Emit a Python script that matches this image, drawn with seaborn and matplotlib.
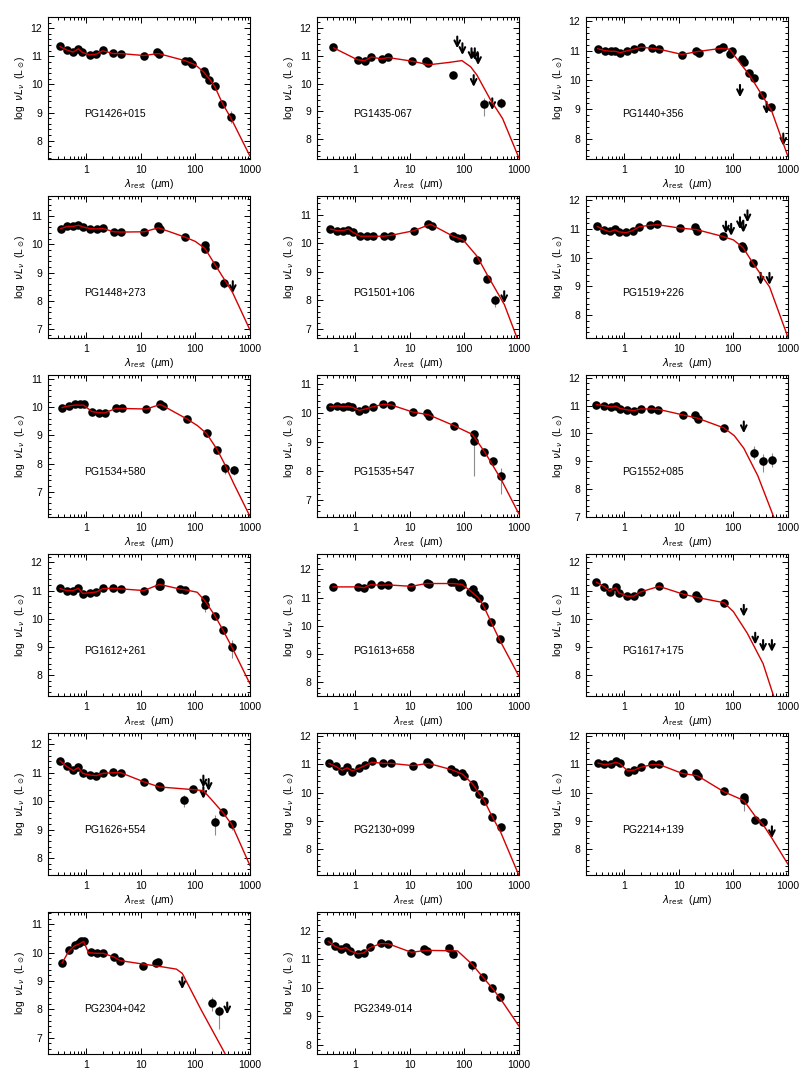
import matplotlib
matplotlib.use("Agg")
import matplotlib.pyplot as plt
import seaborn as sns
from matplotlib.ticker import MultipleLocator, FixedLocator, FixedFormatter, NullFormatter, LogLocator, FormatStrFormatter

# ---- data (rest wavelength in micron, log nuL_nu in L_sun) ----
names = ["PG1426+015", "PG1435-067", "PG1440+356", "PG1448+273", "PG1501+106", "PG1519+226",
         "PG1534+580", "PG1535+547", "PG1552+085", "PG1612+261", "PG1613+658", "PG1617+175",
         "PG1626+554", "PG2130+099", "PG2214+139", "PG2304+042", "PG2349-014"]

y_limits = [(7.35, 12.4), (7.3, 12.38), (7.3, 12.15), (6.7, 11.7), (6.68, 11.66), (7.2, 12.15),
            (6.1, 11.15), (6.4, 11.3), (7.0, 12.1), (7.25, 12.3), (7.5, 12.55), (7.25, 12.3),
            (7.4, 12.4), (7.07, 12.12), (7.07, 12.12), (6.42, 11.44), (7.67, 12.67)]

# PG1426+015
pg1426_x = [0.33, 0.45, 0.58, 0.72, 0.85, 1.16, 1.54, 2.0, 3.16, 4.3, 11.3, 20, 22, 64, 75, 88, 141, 147, 177, 226, 309, 454]
pg1426_y = [11.37, 11.23, 11.15, 11.27, 11.14, 11.05, 11.09, 11.21, 11.11, 11.1, 11.03, 11.14, 11.08, 10.82, 10.82, 10.72, 10.49, 10.38, 10.17, 9.93, 9.31, 8.86]
pg1426_ulx, pg1426_uly = [], []
pg1426_mx = [0.33, 0.45, 0.58, 0.72, 0.85, 1.16, 1.54, 2.0, 3.16, 4.3, 11.3, 21, 64, 100, 140, 180, 226, 309, 454, 1000]
pg1426_my = [11.35, 11.22, 11.15, 11.27, 11.14, 11.05, 11.08, 11.2, 11.1, 11.1, 11.03, 11.1, 10.85, 10.7, 10.45, 10.2, 9.93, 9.35, 8.78, 7.45]
pg1426_ebx, pg1426_eblo, pg1426_ebhi = [75, 454], [10.72, 8.62], [10.9, 9.05]

# PG1435-067
pg1435_x = [0.40, 1.13, 1.52, 1.93, 3.07, 4.06, 11, 20, 21.6, 63, 228, 464]
pg1435_y = [11.3, 10.83, 10.82, 10.96, 10.89, 10.94, 10.82, 10.8, 10.74, 10.3, 9.27, 9.3]
pg1435_ulx = [74, 92, 135, 155, 178, 148, 324]
pg1435_uly = [11.68, 11.44, 11.26, 11.26, 11.08, 10.3, 9.47]
pg1435_mx = [0.4, 1.1, 1.5, 2.0, 3.0, 4.0, 11, 22, 50, 90, 130, 170, 220, 300, 500, 1000]
pg1435_my = [11.28, 10.85, 10.82, 10.95, 10.88, 10.93, 10.8, 10.67, 10.75, 10.82, 10.6, 10.3, 9.9, 9.42, 8.75, 7.33]
pg1435_ebx, pg1435_eblo, pg1435_ebhi = [0.4, 228, 464], [11.2, 8.85, 9.12], [11.38, 9.5, 9.48]

# PG1440+356
pg1440_x = [0.325, 0.45, 0.57, 0.68, 0.85, 1.15, 1.52, 2.02, 3.2, 4.37, 11.5, 20.7, 23.8, 55, 65, 85, 93, 146, 158, 197, 240, 335, 484]
pg1440_y = [11.07, 11.0, 10.98, 10.98, 10.93, 11.0, 11.05, 11.12, 11.08, 11.05, 10.86, 11.0, 10.93, 11.05, 11.12, 10.88, 10.98, 10.7, 10.62, 10.25, 10.07, 9.47, 9.08]
pg1440_ulx, pg1440_uly = [132, 405, 820], [9.83, 9.25, 8.17]
pg1440_mx = [0.325, 0.45, 0.57, 0.68, 0.85, 1.15, 1.52, 2.02, 3.2, 4.37, 11.5, 22, 60, 85, 130, 200, 300, 500, 1000]
pg1440_my = [11.07, 11.0, 10.98, 10.98, 10.93, 11.0, 11.05, 11.12, 11.08, 11.05, 10.87, 10.97, 11.08, 11.05, 10.6, 10.15, 9.62, 8.95, 7.38]
pg1440_ebx, pg1440_eblo, pg1440_ebhi = [], [], []

# PG1448+273
pg1448_x = [0.34, 0.45, 0.58, 0.72, 0.87, 1.2, 1.58, 2.04, 3.18, 4.3, 11.6, 20.7, 22.4, 65, 150, 150, 230, 330]
pg1448_y = [10.55, 10.64, 10.64, 10.68, 10.62, 10.55, 10.53, 10.56, 10.43, 10.43, 10.44, 10.64, 10.55, 10.25, 9.97, 9.84, 9.27, 8.63]
pg1448_ulx, pg1448_uly = [484], [8.7]
pg1448_mx = [0.34, 0.45, 0.58, 0.72, 0.87, 1.2, 1.6, 2.0, 3.2, 4.3, 11.6, 21, 65, 100, 150, 240, 480, 1000]
pg1448_my = [10.55, 10.63, 10.63, 10.67, 10.61, 10.55, 10.54, 10.56, 10.44, 10.43, 10.44, 10.58, 10.25, 10.1, 9.85, 9.22, 8.3, 6.98]
pg1448_ebx, pg1448_eblo, pg1448_ebhi = [330], [8.45], [8.78]

# PG1501+106
pg1501_x = [0.35, 0.47, 0.61, 0.75, 0.92, 1.24, 1.64, 2.14, 3.42, 4.5, 11.7, 22, 25.7, 62, 73, 91, 167, 260, 366]
pg1501_y = [10.49, 10.44, 10.44, 10.47, 10.41, 10.24, 10.24, 10.24, 10.24, 10.26, 10.44, 10.67, 10.61, 10.24, 10.18, 10.2, 9.4, 8.76, 8.0]
pg1501_ulx, pg1501_uly = [536], [8.32]
pg1501_mx = [0.35, 0.47, 0.61, 0.75, 0.92, 1.24, 1.64, 2.14, 3.4, 4.5, 11.7, 24, 62, 95, 170, 270, 540, 1000]
pg1501_my = [10.5, 10.45, 10.45, 10.5, 10.38, 10.25, 10.25, 10.25, 10.25, 10.28, 10.44, 10.67, 10.25, 10.12, 9.55, 8.85, 7.85, 6.5]
pg1501_ebx, pg1501_eblo, pg1501_ebhi = [366], [7.78], [8.2]

# PG1519+226
pg1519_x = [0.32, 0.42, 0.54, 0.68, 0.8, 1.09, 1.44, 1.9, 2.99, 4.07, 10.6, 19.9, 22, 64, 145, 148, 226]
pg1519_y = [11.09, 10.98, 10.92, 11.0, 10.91, 10.88, 10.94, 11.08, 11.15, 11.18, 11.02, 11.08, 10.94, 10.74, 10.41, 10.32, 9.82]
pg1519_ulx = [73, 91, 132, 152, 181, 316, 457]
pg1519_uly = [11.26, 11.18, 11.41, 11.29, 11.65, 9.47, 9.47]
pg1519_mx = [0.32, 0.42, 0.54, 0.68, 0.8, 1.09, 1.44, 1.9, 2.99, 4.07, 10.6, 21, 64, 100, 150, 230, 460, 1000]
pg1519_my = [11.09, 10.98, 10.9, 10.97, 10.9, 10.87, 10.95, 11.08, 11.13, 11.15, 11.03, 10.98, 10.74, 10.62, 10.35, 9.8, 8.98, 7.22]
pg1519_ebx, pg1519_eblo, pg1519_ebhi = [145], [10.25], [10.55]

# PG1534+580
pg1534_x = [0.36, 0.48, 0.62, 0.76, 0.9, 1.27, 1.71, 2.17, 3.48, 4.6, 12.6, 22.7, 25.8, 71, 160, 250, 350, 515]
pg1534_y = [9.99, 10.05, 10.11, 10.11, 10.11, 9.84, 9.81, 9.79, 9.99, 9.97, 9.93, 10.13, 10.05, 9.58, 9.08, 8.48, 7.85, 7.76]
pg1534_ulx, pg1534_uly = [], []
pg1534_mx = [0.36, 0.48, 0.62, 0.76, 0.9, 1.27, 1.71, 2.17, 3.48, 4.6, 12.6, 22.7, 25.8, 71, 109, 160, 250, 350, 500, 1000]
pg1534_my = [9.99, 10.05, 10.08, 10.08, 10.08, 9.85, 9.81, 9.8, 9.96, 9.96, 9.94, 10.1, 10.05, 9.58, 9.35, 9.07, 8.5, 7.95, 7.3, 6.12]
pg1534_ebx, pg1534_eblo, pg1534_ebhi = [350, 515], [7.62, 7.6], [8.0, 7.92]

# PG1535+547
pg1535_x = [0.34, 0.47, 0.61, 0.74, 0.88, 1.19, 1.54, 2.08, 3.26, 4.5, 11.4, 20.3, 22.7, 65, 150, 150, 230, 334, 470]
pg1535_y = [10.21, 10.23, 10.21, 10.22, 10.19, 10.07, 10.13, 10.21, 10.3, 10.27, 10.01, 9.98, 9.9, 9.53, 9.26, 9.01, 8.64, 8.33, 7.83]
pg1535_ulx, pg1535_uly = [], []
pg1535_mx = [0.34, 0.47, 0.61, 0.74, 0.88, 1.19, 1.54, 2.08, 3.26, 4.5, 11.4, 22, 65, 140, 240, 470, 1000]
pg1535_my = [10.21, 10.23, 10.21, 10.22, 10.19, 10.08, 10.13, 10.2, 10.29, 10.27, 10.02, 9.93, 9.55, 9.25, 8.62, 7.7, 6.5]
pg1535_ebx, pg1535_eblo, pg1535_ebhi = [150, 470], [7.8, 7.2], [9.3, 8.1]

# PG1552+085
pg1552_x = [0.31, 0.43, 0.58, 0.7, 0.84, 1.12, 1.52, 2.0, 3.1, 4.16, 11.7, 20.2, 22.5, 67, 240, 350, 507]
pg1552_y = [11.04, 11.0, 10.94, 11.0, 10.88, 10.85, 10.82, 10.88, 10.88, 10.86, 10.67, 10.67, 10.53, 10.18, 9.3, 9.0, 9.03]
pg1552_ulx, pg1552_uly = [155], [10.43]
pg1552_mx = [0.31, 0.43, 0.58, 0.7, 0.84, 1.12, 1.52, 2.0, 3.1, 4.16, 11.7, 22, 67, 104, 155, 280, 600]
pg1552_my = [11.04, 11.0, 10.95, 10.98, 10.9, 10.85, 10.82, 10.88, 10.88, 10.87, 10.67, 10.55, 10.2, 9.92, 9.47, 8.48, 6.8]
pg1552_ebx, pg1552_eblo, pg1552_ebhi = [240, 350, 507], [9.1, 8.6, 8.8], [9.55, 9.25, 9.3]

# PG1612+261
pg1612_x = [0.33, 0.44, 0.58, 0.72, 0.86, 1.16, 1.54, 2.03, 3.13, 4.32, 11.4, 21.7, 22.6, 22.6, 53, 64, 147, 147, 226, 318, 463]
pg1612_y = [11.08, 11.0, 11.0, 11.09, 10.88, 10.91, 10.94, 11.09, 11.09, 11.06, 11.0, 11.17, 11.29, 11.15, 11.06, 11.03, 10.7, 10.47, 10.11, 9.6, 8.99]
pg1612_ulx, pg1612_uly = [], []
pg1612_mx = [0.33, 0.44, 0.58, 0.72, 0.86, 1.16, 1.54, 2.03, 3.13, 4.32, 11.4, 22, 53, 64, 108, 147, 226, 318, 463, 1000]
pg1612_my = [11.07, 11.0, 11.0, 11.08, 10.9, 10.92, 10.95, 11.07, 11.08, 11.06, 11.0, 11.22, 11.05, 11.03, 10.94, 10.65, 10.12, 9.6, 9.0, 7.68]
pg1612_ebx, pg1612_eblo, pg1612_ebhi = [147, 463], [10.25, 8.6], [10.65, 9.25]

# PG1613+658
pg1613_x = [0.39, 1.11, 1.47, 1.91, 2.93, 4.05, 10.7, 20.3, 22.7, 56, 64, 79, 88, 92, 127, 141, 158, 183, 227, 305, 440]
pg1613_y = [11.38, 11.38, 11.33, 11.48, 11.44, 11.44, 11.38, 11.53, 11.48, 11.56, 11.56, 11.36, 11.53, 11.44, 11.2, 11.29, 11.11, 10.97, 10.7, 10.14, 9.51]
pg1613_ulx, pg1613_uly = [], []
pg1613_mx = [0.39, 1.1, 1.47, 1.9, 2.9, 4.05, 10.7, 20, 60, 90, 127, 183, 227, 305, 440, 1000]
pg1613_my = [11.38, 11.38, 11.35, 11.46, 11.44, 11.45, 11.4, 11.5, 11.5, 11.47, 11.25, 10.98, 10.68, 10.15, 9.5, 8.2]
pg1613_ebx, pg1613_eblo, pg1613_ebhi = [0.39], [11.28], [11.46]

# PG1617+175
pg1617_x = [0.31, 0.42, 0.54, 0.7, 0.8, 1.12, 1.5, 2.0, 4.35, 11.7, 21, 22.5, 67]
pg1617_y = [11.32, 11.14, 10.96, 11.12, 10.9, 10.79, 10.79, 10.96, 11.17, 10.88, 10.85, 10.75, 10.55]
pg1617_ulx, pg1617_uly = [155, 251, 350, 507], [10.49, 9.5, 9.24, 9.24]
pg1617_mx = [0.31, 0.42, 0.54, 0.7, 0.8, 1.12, 1.5, 2.0, 4.35, 11.7, 22, 67, 100, 180, 350, 600]
pg1617_my = [11.3, 11.15, 10.98, 11.1, 10.92, 10.8, 10.8, 10.95, 11.15, 10.88, 10.75, 10.57, 10.25, 9.48, 8.4, 7.0]
pg1617_ebx, pg1617_eblo, pg1617_ebhi = [], [], []

# PG1626+554
pg1626_x = [0.33, 0.44, 0.58, 0.72, 0.86, 1.16, 1.54, 2.03, 3.13, 4.32, 11.4, 21.7, 22.6, 62, 92, 226, 318, 463]
pg1626_y = [11.43, 11.23, 11.08, 11.2, 10.99, 10.92, 10.9, 10.99, 11.02, 10.99, 10.69, 10.54, 10.49, 10.04, 10.43, 9.28, 9.62, 9.18]
pg1626_ulx, pg1626_uly = [140, 140, 175], [10.9, 10.5, 10.78]
pg1626_mx = [0.33, 0.44, 0.58, 0.72, 0.86, 1.16, 1.54, 2.03, 3.13, 4.32, 11.4, 22, 100, 140, 194, 318, 463, 1000]
pg1626_my = [11.42, 11.22, 11.08, 11.18, 10.98, 10.92, 10.9, 10.98, 11.0, 11.0, 10.68, 10.5, 10.4, 10.37, 10.07, 9.6, 9.18, 7.73]
pg1626_ebx, pg1626_eblo, pg1626_ebhi = [62, 92, 226, 463], [9.8, 10.3, 8.8, 9.0], [10.2, 10.52, 9.5, 9.35]

# PG2130+099
pg2130_x = [0.33, 0.45, 0.57, 0.72, 0.88, 1.16, 1.54, 2.03, 3.27, 4.5, 11.4, 20.3, 22.7, 57, 68, 92, 99, 141, 150, 186, 231, 318, 462]
pg2130_y = [11.04, 10.93, 10.78, 10.9, 10.75, 10.87, 10.99, 11.11, 11.04, 11.05, 10.96, 11.08, 11.02, 10.84, 10.74, 10.68, 10.6, 10.32, 10.2, 9.96, 9.7, 9.15, 8.77]
pg2130_ulx, pg2130_uly = [], []
pg2130_mx = [0.33, 0.45, 0.57, 0.72, 0.88, 1.16, 1.54, 2.03, 3.27, 4.5, 11.4, 22, 57, 92, 140, 186, 231, 318, 460, 1000]
pg2130_my = [11.04, 10.92, 10.8, 10.88, 10.77, 10.86, 10.97, 11.08, 11.04, 11.04, 10.96, 11.04, 10.82, 10.66, 10.32, 9.97, 9.72, 9.17, 8.6, 7.05]
pg2130_ebx, pg2130_eblo, pg2130_ebhi = [99], [10.45], [10.75]

# PG2214+139
pg2214_x = [0.33, 0.43, 0.58, 0.7, 0.84, 1.17, 1.52, 2.02, 3.27, 4.35, 11.7, 21, 22.5, 67, 155, 155, 251, 350]
pg2214_y = [11.05, 11.02, 11.02, 11.11, 11.04, 10.75, 10.81, 10.92, 11.02, 11.02, 10.68, 10.68, 10.6, 10.04, 9.85, 9.72, 9.04, 8.95]
pg2214_ulx, pg2214_uly = [507], [8.8]
pg2214_mx = [0.33, 0.43, 0.58, 0.7, 0.84, 1.17, 1.52, 2.02, 3.27, 4.35, 11.7, 22, 67, 155, 251, 350, 507, 1000]
pg2214_my = [11.05, 11.0, 11.02, 11.08, 11.02, 10.77, 10.8, 10.9, 11.0, 11.0, 10.68, 10.6, 10.03, 9.72, 9.16, 8.86, 8.38, 7.45]
pg2214_ebx, pg2214_eblo, pg2214_ebhi = [155], [9.35], [9.9]

# PG2304+042
pg2304_x = [0.36, 0.48, 0.62, 0.73, 0.81, 0.9, 1.21, 1.6, 2.06, 3.2, 4.24, 10.9, 18.9, 20.8, 200, 275]
pg2304_y = [9.63, 10.08, 10.28, 10.34, 10.4, 10.43, 10.02, 9.99, 9.99, 9.86, 9.72, 9.54, 9.63, 9.66, 8.24, 7.95]
pg2304_ulx, pg2304_uly = [57.5, 383], [9.13, 8.24]
pg2304_mx = [0.36, 0.48, 0.62, 0.73, 0.81, 0.9, 1.1, 1.6, 2.06, 3.2, 4.24, 10.9, 20, 45, 57.5, 130, 350]
pg2304_my = [9.63, 10.05, 10.25, 10.3, 10.35, 10.4, 10.0, 9.98, 9.98, 9.85, 9.72, 9.6, 9.53, 9.42, 9.27, 7.95, 6.43]
pg2304_ebx, pg2304_eblo, pg2304_ebhi = [200, 275], [7.95, 7.3], [8.45, 8.1]

# PG2349-014
pg2349_x = [0.32, 0.42, 0.55, 0.68, 0.81, 1.12, 1.45, 1.9, 2.96, 4.06, 10.7, 18.6, 21, 52.7, 62, 140, 217, 314, 445]
pg2349_y = [11.64, 11.47, 11.37, 11.43, 11.29, 11.2, 11.23, 11.43, 11.57, 11.55, 11.22, 11.38, 11.29, 11.41, 11.2, 10.79, 10.38, 10.01, 9.66]
pg2349_ulx, pg2349_uly = [], []
pg2349_mx = [0.32, 0.42, 0.55, 0.68, 0.81, 1.12, 1.45, 1.9, 2.96, 4.06, 10.7, 20, 75, 140, 217, 314, 445, 1000]
pg2349_my = [11.64, 11.47, 11.37, 11.42, 11.3, 11.2, 11.23, 11.42, 11.56, 11.55, 11.25, 11.32, 11.3, 10.82, 10.38, 10.02, 9.65, 8.65]
pg2349_ebx, pg2349_eblo, pg2349_ebhi = [140], [10.6], [10.95]

panels = [
    (pg1426_x, pg1426_y, pg1426_ulx, pg1426_uly, pg1426_mx, pg1426_my, pg1426_ebx, pg1426_eblo, pg1426_ebhi),
    (pg1435_x, pg1435_y, pg1435_ulx, pg1435_uly, pg1435_mx, pg1435_my, pg1435_ebx, pg1435_eblo, pg1435_ebhi),
    (pg1440_x, pg1440_y, pg1440_ulx, pg1440_uly, pg1440_mx, pg1440_my, pg1440_ebx, pg1440_eblo, pg1440_ebhi),
    (pg1448_x, pg1448_y, pg1448_ulx, pg1448_uly, pg1448_mx, pg1448_my, pg1448_ebx, pg1448_eblo, pg1448_ebhi),
    (pg1501_x, pg1501_y, pg1501_ulx, pg1501_uly, pg1501_mx, pg1501_my, pg1501_ebx, pg1501_eblo, pg1501_ebhi),
    (pg1519_x, pg1519_y, pg1519_ulx, pg1519_uly, pg1519_mx, pg1519_my, pg1519_ebx, pg1519_eblo, pg1519_ebhi),
    (pg1534_x, pg1534_y, pg1534_ulx, pg1534_uly, pg1534_mx, pg1534_my, pg1534_ebx, pg1534_eblo, pg1534_ebhi),
    (pg1535_x, pg1535_y, pg1535_ulx, pg1535_uly, pg1535_mx, pg1535_my, pg1535_ebx, pg1535_eblo, pg1535_ebhi),
    (pg1552_x, pg1552_y, pg1552_ulx, pg1552_uly, pg1552_mx, pg1552_my, pg1552_ebx, pg1552_eblo, pg1552_ebhi),
    (pg1612_x, pg1612_y, pg1612_ulx, pg1612_uly, pg1612_mx, pg1612_my, pg1612_ebx, pg1612_eblo, pg1612_ebhi),
    (pg1613_x, pg1613_y, pg1613_ulx, pg1613_uly, pg1613_mx, pg1613_my, pg1613_ebx, pg1613_eblo, pg1613_ebhi),
    (pg1617_x, pg1617_y, pg1617_ulx, pg1617_uly, pg1617_mx, pg1617_my, pg1617_ebx, pg1617_eblo, pg1617_ebhi),
    (pg1626_x, pg1626_y, pg1626_ulx, pg1626_uly, pg1626_mx, pg1626_my, pg1626_ebx, pg1626_eblo, pg1626_ebhi),
    (pg2130_x, pg2130_y, pg2130_ulx, pg2130_uly, pg2130_mx, pg2130_my, pg2130_ebx, pg2130_eblo, pg2130_ebhi),
    (pg2214_x, pg2214_y, pg2214_ulx, pg2214_uly, pg2214_mx, pg2214_my, pg2214_ebx, pg2214_eblo, pg2214_ebhi),
    (pg2304_x, pg2304_y, pg2304_ulx, pg2304_uly, pg2304_mx, pg2304_my, pg2304_ebx, pg2304_eblo, pg2304_ebhi),
    (pg2349_x, pg2349_y, pg2349_ulx, pg2349_uly, pg2349_mx, pg2349_my, pg2349_ebx, pg2349_eblo, pg2349_ebhi),
]

# ---- style ----
sns.set_style("ticks")
plt.rcParams['font.family'] = ['Liberation Sans', 'DejaVu Sans']
plt.rcParams['mathtext.fontset'] = 'dejavusans'
plt.rcParams['font.size'] = 7.5
for key in ['text.color', 'axes.labelcolor', 'xtick.color', 'ytick.color', 'axes.edgecolor']:
    plt.rcParams[key] = 'black'

W, H = 806, 1074
fig = plt.figure(figsize=(W / 100, H / 100), dpi=100)
fig.patch.set_facecolor('white')

col_left = [48, 317, 586]   # pixel positions of the panel boxes
panel_w, panel_h = 202, 142
row_step, top0 = 179, 17
arrow_len = 0.42            # length of upper-limit arrows in dex

for i, (name, lims, p) in enumerate(zip(names, y_limits, panels)):
    px, py, ulx, uly, mx, my, ebx, eblo, ebhi = p
    row, col = divmod(i, 3)
    top = top0 + row * row_step
    ax = fig.add_axes([col_left[col] / W, (H - top - panel_h) / H, panel_w / W, panel_h / H])
    ax.set_xscale('log')

    # error bars, data, model
    if ebx:
        ax.vlines(ebx, eblo, ebhi, color='#8c8c8c', lw=0.8, zorder=2)
    sns.scatterplot(x=px, y=py, ax=ax, color='black', s=38, linewidth=0, zorder=3, legend=False)
    sns.lineplot(x=mx, y=my, ax=ax, sort=False, estimator=None, color='#d40000', lw=1.0, zorder=4)

    # upper limits
    for ux, uy in zip(ulx, uly):
        ax.annotate('', xy=(ux, uy - arrow_len), xytext=(ux, uy),
                    arrowprops=dict(arrowstyle='->', color='black', lw=1.5,
                                    shrinkA=0, shrinkB=0, mutation_scale=10))

    ax.text(0.18, 0.32, name, transform=ax.transAxes, ha='left', va='center', fontsize=7.5)

    ax.set_xlim(0.2, 1000)
    ax.set_ylim(*lims)
    ax.xaxis.set_major_locator(FixedLocator([1, 10, 100, 1000]))
    ax.xaxis.set_major_formatter(FixedFormatter(['1', '10', '100', '1000']))
    ax.xaxis.set_minor_locator(LogLocator(base=10, subs=range(2, 10), numticks=20))
    ax.xaxis.set_minor_formatter(NullFormatter())
    ax.yaxis.set_major_locator(MultipleLocator(1))
    ax.yaxis.set_minor_locator(MultipleLocator(0.2))
    ax.yaxis.set_major_formatter(FormatStrFormatter('%d'))

    ax.tick_params(which='both', direction='in', top=True, right=True, width=0.7, labelsize=7.5, pad=4)
    ax.tick_params(which='major', length=4)
    ax.tick_params(which='minor', length=2)
    for sp in ax.spines.values():
        sp.set_linewidth(0.8)

    ax.set_xlabel(r'$\lambda_{\rm rest}$  ($\mu$m)', fontsize=7.5, labelpad=2)
    ax.set_ylabel(r'log  $\nu L_\nu$  (L$_\odot$)', fontsize=7.5, labelpad=3)

fig.savefig('out.png', dpi=100)
